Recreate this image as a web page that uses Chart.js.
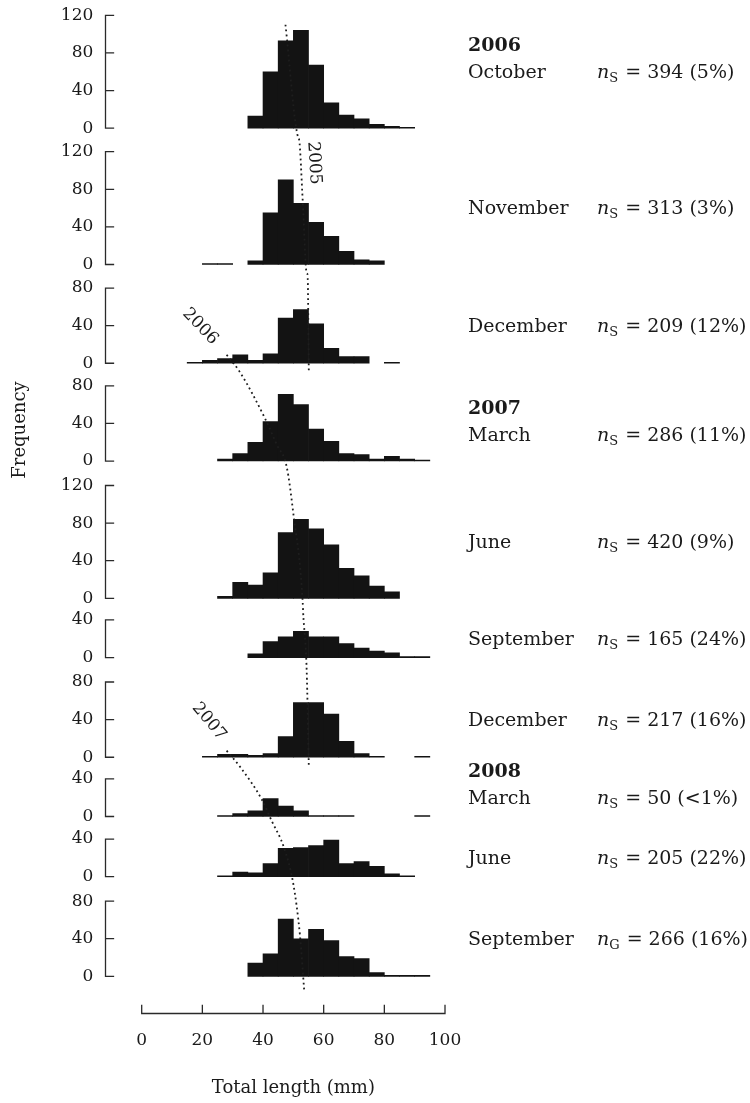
<!DOCTYPE html>
<html>
<head>
<meta charset="utf-8">
<script src="https://cdn.jsdelivr.net/npm/chart.js@4/dist/chart.umd.min.js"></script>
<style>
  html, body { margin: 0; padding: 0; background: #ffffff; }
  #wrap { position: relative; width: 750px; height: 1103px; }
</style>
</head>
<body>
<div id="wrap"><canvas id="chart"></canvas></div>
<script>
// Length classes: lower edges in mm, each class 5 mm wide
const binEdges = [0, 5, 10, 15, 20, 25, 30, 35, 40, 45, 50, 55, 60, 65, 70, 75, 80, 85, 90, 95];
const binWidth = 5;

// Number of fish per length class for every sampling month
const oct2006 = [0, 0, 0, 0, 0, 0, 0, 13, 60, 93, 104, 67, 27, 14, 10, 4, 2, 1, 0, 0];
const nov2006 = [0, 0, 0, 0, 1, 1, 0, 4, 55, 90, 65, 45, 30, 14, 5, 4, 0, 0, 0, 0];
const dec2006 = [0, 0, 0, 1, 3, 5, 9, 3, 10, 48, 57, 42, 16, 7, 7, 0, 1, 0, 0, 0];
const mar2007 = [0, 0, 0, 0, 0, 2, 8, 20, 42, 71, 60, 34, 21, 8, 7, 2, 5, 2, 1, 0];
const jun2007 = [0, 0, 0, 0, 0, 2, 17, 14, 27, 70, 84, 74, 57, 32, 24, 13, 7, 0, 0, 0];
const sep2007 = [0, 0, 0, 0, 0, 0, 0, 4, 17, 22, 28, 22, 22, 15, 10, 7, 5, 1, 1, 0];
const dec2007 = [0, 0, 0, 0, 1, 3, 3, 2, 4, 22, 58, 58, 46, 17, 4, 1, 0, 0, 1, 0];
const mar2008 = [0, 0, 0, 0, 0, 1, 3, 6, 19, 11, 6, 1, 1, 1, 0, 0, 0, 0, 1, 0];
const jun2008 = [0, 0, 0, 0, 0, 1, 5, 4, 14, 30, 31, 33, 39, 14, 16, 11, 3, 1, 0, 0];
const sep2008 = [0, 0, 0, 0, 0, 0, 0, 14, 24, 61, 40, 50, 38, 21, 19, 4, 1, 1, 1, 0];

const panelCounts = [oct2006, nov2006, dec2006, mar2007, jun2007, sep2007, dec2007, mar2008, jun2008, sep2008];

// Sample descriptions shown to the right of each histogram
const sampleYears = ['2006', '', '', '2007', '', '', '', '2008', '', ''];
const sampleMonths = ['October', 'November', 'December', 'March', 'June', 'September', 'December', 'March', 'June', 'September'];
const sampleSubscripts = ['S', 'S', 'S', 'S', 'S', 'S', 'S', 'S', 'S', 'G'];
const sampleSizes = [394, 313, 209, 286, 420, 165, 217, 50, 205, 266];
const sampleShares = ['5%', '3%', '12%', '11%', '9%', '24%', '16%', '<1%', '22%', '16%'];

// Tick labels
const panelTopTicks = [120, 120, 80, 80, 120, 40, 80, 40, 40, 80];
const frequencyStep = 40;
const lengthTicks = [0, 20, 40, 60, 80, 100];

// Modal progression of each cohort: [panel, total length (mm), frequency in that panel]
const cohort2005 = [[0, 47.4, 110], [0, 51.6, -10], [1, 51.9, 133], [1, 53.1, 67], [1, 54.4, -9], [2, 54.7, 94], [2, 55.1, -9]];
const cohort2006 = [[2, 28.0, 9], [3, 32.3, 95], [3, 40.7, 45], [3, 44.6, 17], [3, 47.8, -6], [4, 50.0, 90], [4, 53.1, -5], [5, 53.2, 50], [6, 54.4, 92], [6, 55.1, -10]];
const cohort2007 = [[6, 28.0, 7], [6, 32.4, -10], [7, 39.6, 18], [7, 42.9, -5], [8, 46.9, 31], [8, 50.0, -8], [9, 52.2, 43], [9, 53.6, -16]];
const cohortNames = ['2005', '2006', '2007'];

// ---- layout of the stacked panels (frequency units, equal scale in every panel) ----
const panelRanges = [[-10, 131], [-11, 135], [-10, 94], [-10, 94], [-10, 136], [-10, 53], [-10, 96], [-11, 53], [-11, 53], [-39, 95]];
const panelOffsets = [];
let trackTotal = 0;
panelRanges.forEach(([lo, hi]) => { panelOffsets.push(trackTotal); trackTotal += hi - lo; });
// position of a (panel, frequency) pair on the full-height track axis
const toTrack = (p, f) => panelOffsets[p] + (panelRanges[p][1] - f);

const FONT = '"DejaVu Serif", "Liberation Serif", serif';
const INK = '#1a1a1a';

// keep every axis exactly where the layout puts it
const noScalePadding = s => { s.paddingTop = 0; s.paddingBottom = 0; s.paddingLeft = 0; s.paddingRight = 0; };

const datasets = [];
[cohort2005, cohort2006, cohort2007].forEach((pts, k) => {
  datasets.push({
    type: 'line',
    label: 'cohort ' + cohortNames[k],
    data: pts.map(([p, len, f]) => ({ x: len, y: toTrack(p, f) })),
    xAxisID: 'x',
    yAxisID: 'yTrack',
    borderColor: '#1e1e1e',
    borderWidth: 1.8,
    borderDash: [1.8, 3.2],
    pointRadius: 0,
    cubicInterpolationMode: 'monotone',
    fill: false,
    clip: false,
    order: 0
  });
});
panelCounts.forEach((counts, i) => {
  datasets.push({
    type: 'bar',
    label: sampleMonths[i] + ' ' + i,
    data: binEdges.map((e, j) => ({ x: e + binWidth / 2, y: counts[j] })).filter(d => d.y > 0),
    xAxisID: 'x',
    yAxisID: 'y' + i,
    backgroundColor: '#131313',
    borderWidth: 0,
    grouped: false,
    barPercentage: 1,
    categoryPercentage: 1,
    order: 1
  });
});

const scales = {
  x: {
    type: 'linear', position: 'bottom', min: -12, max: 112, offset: false,
    grid: { display: false, drawTicks: false }, border: { display: false },
    afterBuildTicks: s => { s.ticks = lengthTicks.map(v => ({ value: v })); },
    afterFit: s => { s.height = 90; noScalePadding(s); },
    ticks: { padding: 17, autoSkip: false, maxRotation: 0, color: INK, font: { family: FONT, size: 17 } },
    title: { display: true, text: 'Total length (mm)', color: INK, font: { family: FONT, size: 18 }, padding: { top: 0, bottom: 4 } }
  },
  yTrack: {
    type: 'linear', position: 'left', display: false, min: 0, max: trackTotal, reverse: true, weight: 100,
    afterFit: noScalePadding
  }
};
panelRanges.forEach(([lo, hi], i) => {
  scales['y' + i] = {
    type: 'linear', position: 'left', stack: 'panels', stackWeight: hi - lo, weight: 50 - i,
    min: lo, max: hi,
    grid: { display: false, drawTicks: false }, border: { display: false },
    afterBuildTicks: s => {
      const t = [];
      for (let v = 0; v <= panelTopTicks[i]; v += frequencyStep) t.push({ value: v });
      s.ticks = t;
    },
    afterFit: s => { s.width = 60; noScalePadding(s); },
    ticks: { padding: 12, autoSkip: false, color: INK, font: { family: FONT, size: 17 } }
  };
});

// axis brackets with inward ticks, sample captions and cohort names
const decorations = {
  id: 'decorations',
  afterDraw(chart) {
    const ctx = chart.ctx;
    const xs = chart.scales.x;
    ctx.save();
    ctx.strokeStyle = '#2a2a2a';
    ctx.lineWidth = 1.3;
    ctx.lineCap = 'square';
    // frequency axes
    panelRanges.forEach((r, i) => {
      const sc = chart.scales['y' + i];
      const ax = Math.round(sc.right) + 0.5;
      const y0 = sc.getPixelForValue(0), y1 = sc.getPixelForValue(panelTopTicks[i]);
      ctx.beginPath();
      ctx.moveTo(ax, y0); ctx.lineTo(ax, y1);
      for (let v = 0; v <= panelTopTicks[i]; v += frequencyStep) {
        const ty = sc.getPixelForValue(v);
        ctx.moveTo(ax, ty); ctx.lineTo(ax + 8, ty);
      }
      ctx.stroke();
    });
    // length axis
    const ay = Math.round(xs.top) + 0.5;
    ctx.beginPath();
    ctx.moveTo(xs.getPixelForValue(lengthTicks[0]), ay);
    ctx.lineTo(xs.getPixelForValue(lengthTicks[lengthTicks.length - 1]), ay);
    lengthTicks.forEach(v => {
      const tx = xs.getPixelForValue(v);
      ctx.moveTo(tx, ay); ctx.lineTo(tx, ay - 8);
    });
    ctx.stroke();

    // y title
    ctx.fillStyle = INK;
    ctx.font = '18px ' + FONT;
    ctx.textAlign = 'center';
    ctx.textBaseline = 'middle';
    ctx.save();
    ctx.translate(20, 430);
    ctx.rotate(-Math.PI / 2);
    ctx.fillText('Frequency', 0, 0);
    ctx.restore();

    // sample captions
    ctx.textAlign = 'left';
    ctx.textBaseline = 'alphabetic';
    panelRanges.forEach((r, i) => {
      const sc = chart.scales['y' + i];
      const yMid = sc.getPixelForValue(panelTopTicks[i] / 2) + (i === 3 ? 12 : 0) + 6;
      ctx.font = '19px ' + FONT;
      ctx.fillText(sampleMonths[i], 468, yMid);
      if (sampleYears[i]) {
        ctx.font = 'bold 19px ' + FONT;
        ctx.fillText(sampleYears[i], 468, yMid - 27);
      }
      let x = 597;
      ctx.font = 'italic 19px ' + FONT;
      ctx.fillText('n', x, yMid);
      x += ctx.measureText('n').width;
      ctx.font = '13px ' + FONT;
      ctx.fillText(sampleSubscripts[i], x, yMid + 4);
      x += ctx.measureText(sampleSubscripts[i]).width + 1;
      ctx.font = '19px ' + FONT;
      ctx.fillText(' = ' + sampleSizes[i] + ' (' + sampleShares[i] + ')', x, yMid);
    });

    // cohort names along their dotted lines
    const tags = [
      { text: cohortNames[0], panel: 1, len: 56.8, f: 108, angle: 86.6 },
      { text: cohortNames[1], panel: 2, len: 19.3, f: 39, angle: 46 },
      { text: cohortNames[2], panel: 6, len: 22.2, f: 38, angle: 50 }
    ];
    ctx.font = '17px ' + FONT;
    ctx.textAlign = 'center';
    ctx.textBaseline = 'middle';
    tags.forEach(t => {
      const sc = chart.scales['y' + t.panel];
      ctx.save();
      ctx.translate(xs.getPixelForValue(t.len), sc.getPixelForValue(t.f));
      ctx.rotate(t.angle * Math.PI / 180);
      ctx.fillText(t.text, 0, 0);
      ctx.restore();
    });
    ctx.restore();
  }
};

new Chart(document.getElementById('chart'), {
  type: 'bar',
  data: { datasets },
  options: {
    responsive: true,
    maintainAspectRatio: false,
    animation: false,
    devicePixelRatio: 1,
    layout: { autoPadding: false, padding: { left: 45.3, right: 268.6, top: 5, bottom: 0 } },
    plugins: { legend: { display: false }, tooltip: { enabled: false } },
    scales
  },
  plugins: [decorations]
});
</script>
</body>
</html>
